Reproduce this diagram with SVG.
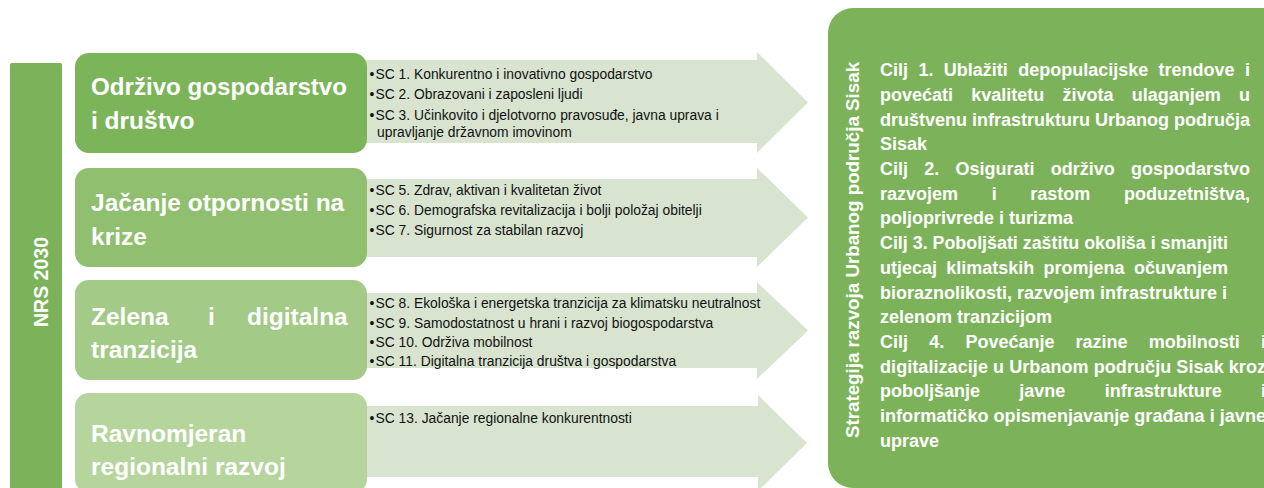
<svg xmlns="http://www.w3.org/2000/svg" width="1264" height="488" viewBox="0 0 1264 488">
  <style>
    .ff { font-family: "Liberation Sans", Arial, sans-serif; }
    .title { font-family: "Liberation Sans", Arial, sans-serif; font-weight: bold; font-size: 24.5px; fill: #ffffff; }
    .sc { font-family: "Liberation Sans", Arial, sans-serif; font-size: 13.85px; fill: #111111; }
    .goal { font-family: "Liberation Sans", Arial, sans-serif; font-weight: bold; font-size: 18px; fill: #ffffff; }
    .vert { font-family: "Liberation Sans", Arial, sans-serif; font-weight: bold; fill: #ffffff; text-anchor: middle; }
    .arrow { fill: #d8e4d0; }
  </style>

  <rect width="1264" height="488" fill="#ffffff"/>

  <!-- arrows (connectors toward the strategy) -->
  <g id="connectors">
    <path class="arrow" d="M360,60 H757 V52 L808,102.5 L757,153 V143 H360 Z"/>
    <path class="arrow" d="M360,179 H757 V168 L808,217.5 L757,267 V257 H360 Z"/>
    <path class="arrow" d="M360,293 H757 V282 L808,330.5 L757,379 V368 H360 Z"/>
    <path class="arrow" d="M360,406 H758 V395 L807,443 L758,491 V477 H360 Z"/>
  </g>

  <!-- NRS 2030 bar -->
  <g id="nrs2030">
    <rect x="10" y="63" width="52" height="440" rx="2" fill="#7cb35a"/>
    <text class="vert" font-size="19.5" transform="translate(48,282) rotate(-90)">NRS 2030</text>
  </g>

  <!-- pillar 1 -->
  <g id="pillar-1">
    <rect x="75" y="53" width="292" height="100" rx="14" fill="#7cb45a"/>
    <text class="title" x="91" y="95" textLength="256" lengthAdjust="spacingAndGlyphs">Održivo gospodarstvo</text>
    <text class="title" x="91" y="129">i društvo</text>
  </g>
  <g id="sc-list-1" class="sc">
    <text x="369.5" y="79">•</text><text x="375.5" y="79">SC 1. Konkurentno i inovativno gospodarstvo</text>
    <text x="369.5" y="99">•</text><text x="375.5" y="99">SC 2. Obrazovani i zaposleni ljudi</text>
    <text x="369.5" y="120">•</text><text x="375.5" y="120">SC 3. Učinkovito i djelotvorno pravosuđe, javna uprava i</text>
    <text x="377" y="137">upravljanje državnom imovinom</text>
  </g>

  <!-- pillar 2 -->
  <g id="pillar-2">
    <rect x="75" y="168" width="292" height="99" rx="14" fill="#8fbf6f"/>
    <text class="title" x="91" y="211">Jačanje otpornosti na</text>
    <text class="title" x="91" y="245">krize</text>
  </g>
  <g id="sc-list-2" class="sc">
    <text x="369.5" y="195">•</text><text x="375.5" y="195">SC 5. Zdrav, aktivan i kvalitetan život</text>
    <text x="369.5" y="215">•</text><text x="375.5" y="215">SC 6. Demografska revitalizacija i bolji položaj obitelji</text>
    <text x="369.5" y="235">•</text><text x="375.5" y="235">SC 7. Sigurnost za stabilan razvoj</text>
  </g>

  <!-- pillar 3 -->
  <g id="pillar-3">
    <rect x="75" y="280" width="292" height="100" rx="14" fill="#a3ca86"/>
    <text class="title" y="325"><tspan x="91">Zelena</tspan> <tspan x="208">i</tspan> <tspan x="247">digitalna</tspan></text>
    <text class="title" x="91" y="358">tranzicija</text>
  </g>
  <g id="sc-list-3" class="sc">
    <text x="369.5" y="308">•</text><text x="375.5" y="308">SC 8. Ekološka i energetska tranzicija za klimatsku neutralnost</text>
    <text x="369.5" y="327.5">•</text><text x="375.5" y="327.5">SC 9. Samodostatnost u hrani i razvoj biogospodarstva</text>
    <text x="369.5" y="347">•</text><text x="375.5" y="347">SC 10. Održiva mobilnost</text>
    <text x="369.5" y="366">•</text><text x="375.5" y="366">SC 11. Digitalna tranzicija društva i gospodarstva</text>
  </g>

  <!-- pillar 4 -->
  <g id="pillar-4">
    <rect x="75" y="393" width="292" height="100" rx="14" fill="#b5d59d"/>
    <text class="title" x="91" y="442">Ravnomjeran</text>
    <text class="title" x="91" y="475">regionalni razvoj</text>
  </g>
  <g id="sc-list-4" class="sc">
    <text x="369.5" y="423">•</text><text x="375.5" y="423">SC 13. Jačanje regionalne konkurentnosti</text>
  </g>

  <!-- strategy box -->
  <g id="strategy">
    <rect x="828" y="8" width="470" height="480" rx="25" fill="#7cb35a"/>
    <text class="vert" font-size="18.75" transform="translate(859,250) rotate(-90)">Strategija razvoja Urbanog područja Sisak</text>
    <g class="goal">
      <text y="76.2"><tspan x="880">Cilj</tspan> <tspan x="918.4">1.</tspan> <tspan x="943.8">Ublažiti</tspan> <tspan x="1018.2">depopulacijske</tspan> <tspan x="1158.6">trendove</tspan> <tspan x="1245">i</tspan></text>
      <text y="100.9"><tspan x="880">povećati</tspan> <tspan x="971.2">kvalitetu</tspan> <tspan x="1062.5">života</tspan> <tspan x="1131.7">ulaganjem</tspan> <tspan x="1239">u</tspan></text>
      <text y="125.6"><tspan x="880">društvenu</tspan> <tspan x="972">infrastrukturu</tspan> <tspan x="1095">Urbanog</tspan> <tspan x="1174">područja</tspan></text>
      <text x="880" y="150.3">Sisak</text>
      <text y="175"><tspan x="880">Cilj</tspan> <tspan x="924.2">2.</tspan> <tspan x="955.4">Osigurati</tspan> <tspan x="1050.7">održivo</tspan> <tspan x="1130.9">gospodarstvo</tspan></text>
      <text y="199.7"><tspan x="880">razvojem</tspan> <tspan x="991.7">i</tspan> <tspan x="1030.3">rastom</tspan> <tspan x="1124">poduzetništva,</tspan></text>
      <text x="880" y="224.4">poljoprivrede i turizma</text>
      <text x="880" y="249.1" textLength="348" lengthAdjust="spacingAndGlyphs">Cilj 3. Poboljšati zaštitu okoliša i smanjiti</text>
      <text y="273.8"><tspan x="880">utjecaj</tspan> <tspan x="946.3">klimatskih</tspan> <tspan x="1043.6">promjena</tspan> <tspan x="1133.9">očuvanjem</tspan></text>
      <text x="880" y="298.5">bioraznolikosti, razvojem infrastrukture i</text>
      <text x="880" y="323.2">zelenom tranzicijom</text>
      <text y="347.9"><tspan x="880">Cilj</tspan> <tspan x="929.2">4.</tspan> <tspan x="965.4">Povećanje</tspan> <tspan x="1075.6">razine</tspan> <tspan x="1148.8">mobilnosti</tspan> <tspan x="1261">i</tspan></text>
      <text x="880" y="372.6" textLength="386" lengthAdjust="spacing">digitalizacije u Urbanom području Sisak kroz</text>
      <text y="397.3"><tspan x="880">poboljšanje</tspan> <tspan x="1019.3">javne</tspan> <tspan x="1104.7">infrastrukture</tspan> <tspan x="1261">i</tspan></text>
      <text x="880" y="422" textLength="386" lengthAdjust="spacingAndGlyphs">informatičko opismenjavanje građana i javne</text>
      <text x="880" y="446.7">uprave</text>
    </g>
  </g>
</svg>
